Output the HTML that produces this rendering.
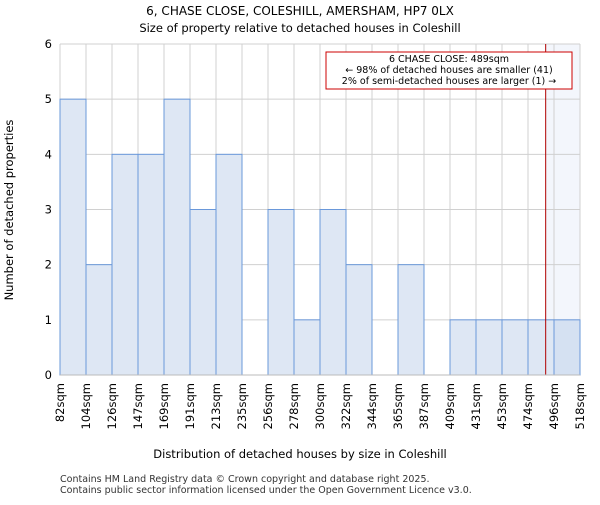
<!DOCTYPE html>
<html><head><meta charset="utf-8"><style>
body{margin:0;background:#fff;font-family:"Liberation Sans","DejaVu Sans",sans-serif;}
</style></head><body>
<svg id="c" width="600" height="500" xmlns="http://www.w3.org/2000/svg" font-family="DejaVu Sans, Liberation Sans, sans-serif">
<text x="300" y="15" text-anchor="middle" font-size="12">6, CHASE CLOSE, COLESHILL, AMERSHAM, HP7 0LX</text>
<text x="300" y="32" text-anchor="middle" font-size="11.5">Size of property relative to detached houses in Coleshill</text>
<g id="grid"></g><g id="bars"></g><g id="axes"></g>
<text x="300" y="458" text-anchor="middle" font-size="11.5">Distribution of detached houses by size in Coleshill</text>
<text transform="translate(13,210) rotate(-90)" text-anchor="middle" font-size="11.5">Number of detached properties</text>
<text x="60" y="482" font-size="9.5" fill="#333">Contains HM Land Registry data © Crown copyright and database right 2025.</text>
<text x="60" y="493" font-size="9.5" fill="#333">Contains public sector information licensed under the Open Government Licence v3.0.</text>
</svg>
<script>
const labels=["82sqm","104sqm","126sqm","147sqm","169sqm","191sqm","213sqm","235sqm","256sqm","278sqm","300sqm","322sqm","344sqm","365sqm","387sqm","409sqm","431sqm","453sqm","474sqm","496sqm","518sqm"];
const counts=[5,2,4,4,5,3,4,0,3,1,3,2,0,2,0,1,1,1,1,1];
const yTicks=[0,1,2,3,4,5,6];
const markerIndex=18.68;
const highlightIndex=19;
const L=60,R=580,T=44,B=375,N=counts.length;
const xs=i=>L+i*(R-L)/N;
const ys=v=>B-v*(B-T)/6;
const NS="http://www.w3.org/2000/svg";
function mk(p,t,a){const e=document.createElementNS(NS,t);for(const k in a)e.setAttribute(k,a[k]);p.appendChild(e);return e;}
const g=document.getElementById('grid'),b=document.getElementById('bars'),ax=document.getElementById('axes');
const sh=mk(g,'rect',{x:xs(markerIndex),y:T,width:R-xs(markerIndex),height:B-T,fill:'#f3f6fc'});


for(let i=0;i<=N;i++){const l=mk(g,'line',{x1:xs(i),x2:xs(i),y1:T,y2:B,stroke:'#d0d0d0','stroke-width':1});

}
yTicks.forEach(v=>{const l=mk(g,'line',{x1:L,x2:R,y1:ys(v),y2:ys(v),stroke:'#d0d0d0','stroke-width':1});


const t=mk(ax,'text',{x:L-8,y:ys(v)+4,'text-anchor':'end','font-size':11.5});t.textContent=v;

});
counts.forEach((c,i)=>{if(!c)return;const r=mk(b,'rect',{x:xs(i),y:ys(c),width:xs(i+1)-xs(i),height:B-ys(c),fill:i==highlightIndex?'#d5e1f2':'#dee7f4',stroke:'#6a98da','stroke-width':1});

});
labels.forEach((s,i)=>{const t=mk(ax,'text',{transform:`translate(${xs(i)+4},${B+8}) rotate(-90)`,'text-anchor':'end','font-size':11.5});t.textContent=s;

});
const ml=mk(ax,'line',{x1:xs(markerIndex),x2:xs(markerIndex),y1:T,y2:B,stroke:'#b00000','stroke-width':1});


const bl=mk(ax,'line',{x1:L,x2:R,y1:B,y2:B,stroke:'#bbb','stroke-width':1});


const box=mk(ax,'rect',{x:326,y:52,width:246,height:37,fill:'#fff',stroke:'#cc0000','stroke-width':1});


["6 CHASE CLOSE: 489sqm","← 98% of detached houses are smaller (41)","2% of semi-detached houses are larger (1) →"].forEach((s,k)=>{const t=mk(ax,'text',{x:449,y:62+k*11,'text-anchor':'middle','font-size':9.5});t.textContent=s;

});
</script>
</body></html>
